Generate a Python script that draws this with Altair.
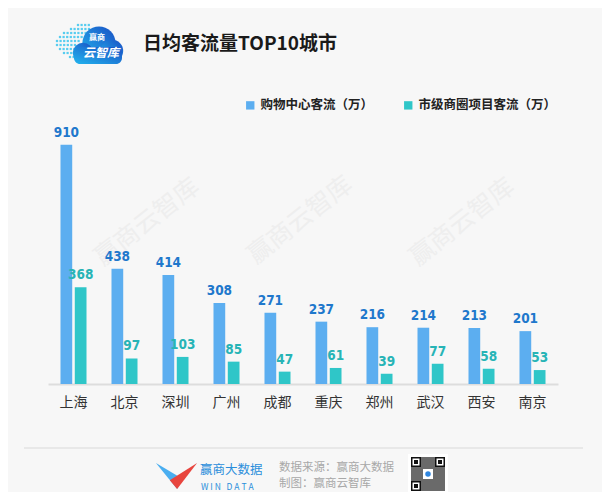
import altair as alt
import pandas as pd

cities = ["上海", "北京", "深圳", "广州", "成都", "重庆", "郑州", "武汉", "西安", "南京"]
mall_flow = [910, 438, 414, 308, 271, 237, 216, 214, 213, 201]
district_flow = [368, 97, 103, 85, 47, 61, 39, 77, 58, 53]
series_names = ["购物中心客流（万）", "市级商圈项目客流（万）"]
bar_colors = ["#5caef0", "#2fc6c8"]
label_colors = ["#1f78cc", "#27b4b6"]
title_text = "日均客流量TOP10城市"
watermark_text = "赢商云智库"

FONT = "Noto Sans CJK SC"
NUM_FONT = "DejaVu Sans Condensed, Liberation Sans Narrow, sans-serif"
OX, OY = 48, 121  # page position of plot origin


def px(x):
    return x - OX


def py(y):
    return y - OY


rows = []
for c, a, b in zip(cities, mall_flow, district_flow):
    rows.append({"city": c, "series": series_names[0], "value": a})
    rows.append({"city": c, "series": series_names[1], "value": b})
df = pd.DataFrame(rows)

x_enc = alt.X("city:N", sort=cities, title=None,
              scale=alt.Scale(paddingInner=0.49, paddingOuter=0.245),
              axis=alt.Axis(labelAngle=0, ticks=False, labelPadding=11,
                            labelFontSize=14, labelFont=FONT, labelColor="#333333",
                            domainColor="#dddddd", domainWidth=2))
xo_enc = alt.XOffset("series:N", sort=series_names,
                     scale=alt.Scale(domain=series_names, paddingInner=0.18))
y_enc = alt.Y("value:Q", scale=alt.Scale(domain=[0, 1000], nice=False), axis=None)

one = pd.DataFrame({"k": [0]})

# watermarks
wm_df = pd.DataFrame({"wx": [px(147), px(300), px(462)], "wy": [py(222), py(220), py(222)]})
watermarks = alt.Chart(wm_df).mark_text(
    text=watermark_text, angle=322, fontSize=25, font=FONT, color="#eeeeee"
).encode(x=alt.X("wx:Q", scale=None), y=alt.Y("wy:Q", scale=None))

bars = alt.Chart(df).mark_bar().encode(
    x=x_enc, xOffset=xo_enc, y=y_enc,
    color=alt.Color("series:N", sort=series_names,
                    scale=alt.Scale(domain=series_names, range=bar_colors),
                    legend=alt.Legend(title=None, orient="none", direction="horizontal",
                                      legendX=px(244), legendY=py(99),
                                      symbolType="square", symbolSize=70,
                                      symbolStrokeWidth=0, labelFont=FONT,
                                      labelFontWeight="bold", labelFontSize=12.5,
                                      labelColor="#222222", columnPadding=28,
                                      labelOffset=4)),
)

lab1 = alt.Chart(df).transform_filter(alt.datum.series == series_names[0]).mark_text(
    baseline="bottom", dy=-5, fontSize=13.5, fontWeight="bold",
    font=NUM_FONT, color=label_colors[0]
).encode(x=x_enc, xOffset=xo_enc, y=y_enc, text="value:Q")
lab2 = alt.Chart(df).transform_filter(alt.datum.series == series_names[1]).mark_text(
    baseline="bottom", dy=-5, fontSize=13.5, fontWeight="bold",
    font=NUM_FONT, color=label_colors[1]
).encode(x=x_enc, xOffset=xo_enc, y=y_enc, text="value:Q")

title = alt.Chart(one).mark_text(
    text=title_text, align="left", baseline="middle", fontSize=19,
    fontWeight="bold", font=FONT, color="#1a1a1a"
).encode(x=alt.value(px(143)), y=alt.value(py(44)))

# top-left logo (cloud)
dots = []
dot_rows = [(25, 78, 90), (29, 71, 90), (33, 64, 86), (37, 60, 82), (41, 57, 79),
            (45, 57, 76), (49, 60, 78), (53, 64, 78), (57, 70, 80)]
for yy, x0, x1 in dot_rows:
    xx = x0
    while xx <= x1:
        dots.append({"dx": px(xx), "dy": py(yy)})
        xx += 3.6
dots_df = pd.DataFrame(dots)
logo_dots = alt.Chart(dots_df).mark_square(size=5, color="#3cc6ef", opacity=0.85).encode(
    x=alt.X("dx:Q", scale=None), y=alt.Y("dy:Q", scale=None))

grad = alt.Gradient(gradient="linear", x1=0, y1=1, x2=1, y2=0,
                    stops=[alt.GradientStop(color="#22b4ee", offset=0),
                           alt.GradientStop(color="#1a4fc4", offset=1)])
cloud_df = pd.DataFrame({"cx": [px(99), px(112), px(83)], "cy": [py(43), py(51), py(53)],
                         "s": [1100, 500, 420]})
cloud = alt.Chart(cloud_df).mark_circle(opacity=1, color=grad).encode(
    x=alt.X("cx:Q", scale=None), y=alt.Y("cy:Q", scale=None),
    size=alt.Size("s:Q", scale=None))
cloud_base = alt.Chart(one).mark_rect(color=grad, cornerRadius=6).encode(
    x=alt.value(px(74)), x2=alt.value(px(122)), y=alt.value(py(47)), y2=alt.value(py(64)))
cloud_t1 = alt.Chart(one).mark_text(text="赢商", fontSize=8, font=FONT, color="white",
                                    fontWeight="bold").encode(x=alt.value(px(97)), y=alt.value(py(38)))
cloud_t2 = alt.Chart(one).mark_text(text="云智库", fontSize=12, font=FONT, color="white",
                                    fontStyle="italic", fontWeight="bold").encode(
    x=alt.value(px(101)), y=alt.value(py(53)))

# footer
sep = alt.Chart(one).mark_rule(color="#e8e8e8", strokeWidth=2).encode(
    x=alt.value(px(24)), x2=alt.value(px(583)), y=alt.value(py(448)))
blue_wing = alt.Chart(one).mark_point(
    shape="M -0.98 -0.62 L 0.22 0.1 L 0.03 0.62 Z", filled=True, size=1764,
    color="#4aaef0", opacity=1, strokeWidth=0
).encode(x=alt.value(px(176.5)), y=alt.value(py(476)))
red_wing = alt.Chart(one).mark_point(
    shape="M 0.98 -0.62 L -0.32 0.2 L 0.03 0.62 Z", filled=True, size=1764,
    color="#e8453e", opacity=1, strokeWidth=0
).encode(x=alt.value(px(176.5)), y=alt.value(py(476)))
NB = "\u00a0"
brand = alt.Chart(one).mark_text(text="赢商大数据", align="left", baseline="middle",
                                 fontSize=12.5, font=FONT, color="#2a8edb").encode(
    x=alt.value(px(200)), y=alt.value(py(470)))
brand_en = alt.Chart(one).mark_text(text=NB.join("WIN") + NB * 3 + NB.join("DATA"),
                                    align="left", baseline="middle",
                                    fontSize=8.5, font=FONT, color="#2a8edb").encode(
    x=alt.value(px(201)), y=alt.value(py(487)))
src1 = alt.Chart(one).mark_text(text="数据来源：赢商大数据", align="left", baseline="middle",
                                fontSize=11.5, font=FONT, color="#a8a8a8").encode(
    x=alt.value(px(279)), y=alt.value(py(468)))
src2 = alt.Chart(one).mark_text(text="制图：赢商云智库", align="left", baseline="middle",
                                fontSize=11.5, font=FONT, color="#a8a8a8").encode(
    x=alt.value(px(279)), y=alt.value(py(484)))

qr_bg = alt.Chart(one).mark_rect(color="white").encode(
    x=alt.value(px(408)), x2=alt.value(px(448)), y=alt.value(py(454)), y2=alt.value(py(494)))
qr_mid = alt.Chart(one).mark_rect(color="#6a6a6a").encode(
    x=alt.value(px(411)), x2=alt.value(px(445)), y=alt.value(py(457)), y2=alt.value(py(491)))
fx = [411, 435, 411]
fy = [457, 457, 481]
finders = []
for a, b in zip(fx, fy):
    finders.append(alt.Chart(one).mark_rect(color="#111111").encode(
        x=alt.value(px(a)), x2=alt.value(px(a + 10)), y=alt.value(py(b)), y2=alt.value(py(b + 10))))
    finders.append(alt.Chart(one).mark_rect(color="white").encode(
        x=alt.value(px(a + 1.5)), x2=alt.value(px(a + 8.5)), y=alt.value(py(b + 1.5)), y2=alt.value(py(b + 8.5))))
    finders.append(alt.Chart(one).mark_rect(color="#111111").encode(
        x=alt.value(px(a + 3)), x2=alt.value(px(a + 7)), y=alt.value(py(b + 3)), y2=alt.value(py(b + 7))))
qr_icon = alt.Chart(one).mark_rect(color="white").encode(
    x=alt.value(px(423)), x2=alt.value(px(433)), y=alt.value(py(469)), y2=alt.value(py(479)))
qr_icon2 = alt.Chart(one).mark_circle(color="#2f86e0", size=30, opacity=1).encode(
    x=alt.value(px(428)), y=alt.value(py(474)))

chart = alt.layer(
    watermarks, bars, lab1, lab2, title, logo_dots, cloud, cloud_base, cloud_t1, cloud_t2,
    sep, blue_wing, red_wing, brand, brand_en, src1, src2, qr_bg, qr_mid, *finders,
    qr_icon, qr_icon2
).properties(
    width=510, height=263,
    autosize=alt.AutoSizeParams(type="none"),
    padding={"left": 40, "top": 113, "right": 44, "bottom": 108},
    background="#f7f7f7",
).configure_view(stroke=None)

chart.save("out.html", embed_options={"renderer": "svg", "actions": False})
